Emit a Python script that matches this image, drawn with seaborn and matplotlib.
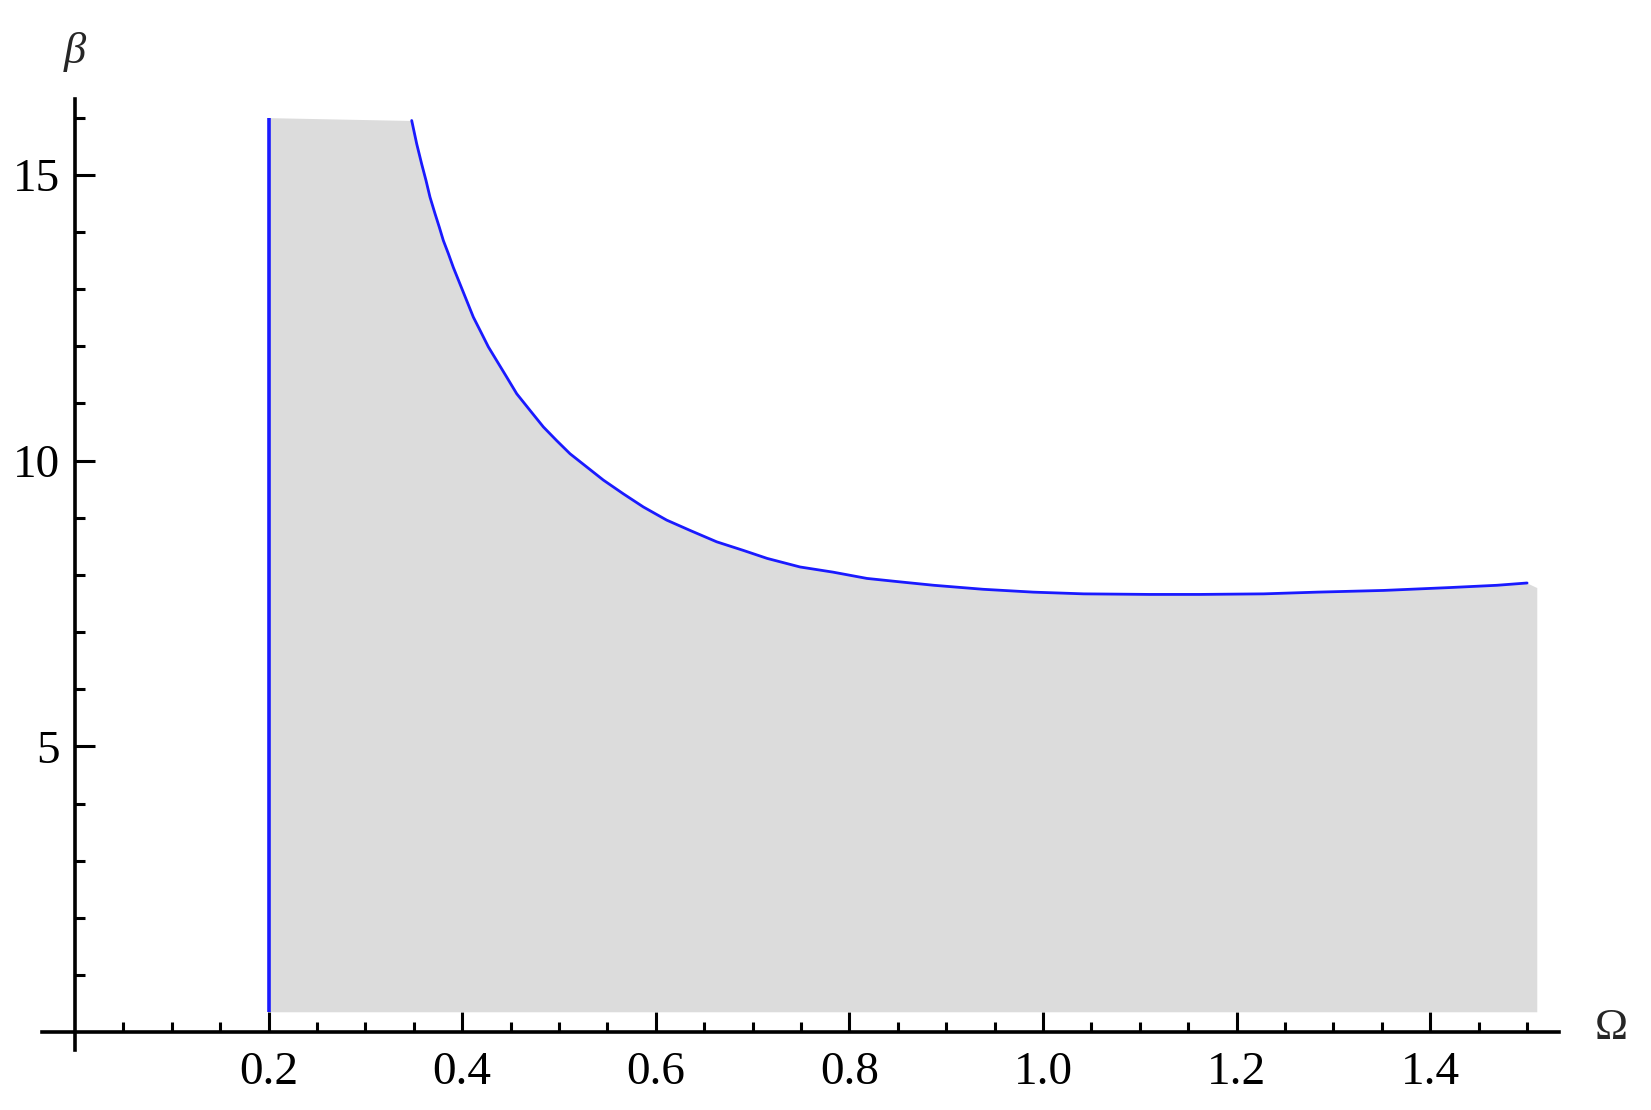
import matplotlib
matplotlib.use("Agg")
import matplotlib.pyplot as plt
import seaborn as sns
import numpy as np

# ---- data ----
omega = [0.3478, 0.3530, 0.3581, 0.3626, 0.3667, 0.3719, 0.3764, 0.3805, 0.3857,
         0.3908, 0.3977, 0.4046, 0.4115, 0.4184, 0.4270, 0.4356, 0.4460, 0.4563,
         0.4700, 0.4838, 0.4976, 0.5114, 0.5286, 0.5458, 0.5664, 0.5871, 0.6112,
         0.6353, 0.6629, 0.6904, 0.715, 0.749, 0.783, 0.818, 0.852, 0.887, 0.938,
         0.990, 1.042, 1.110, 1.162, 1.228, 1.283, 1.352, 1.420, 1.469, 1.500]
beta = [15.95, 15.54, 15.19, 14.90, 14.61, 14.32, 14.08, 13.85, 13.62,
        13.38, 13.09, 12.80, 12.51, 12.28, 11.99, 11.75, 11.46, 11.17,
        10.88, 10.59, 10.35, 10.12, 9.89, 9.66, 9.42, 9.19, 8.96,
        8.78, 8.58, 8.43, 8.29, 8.14, 8.05, 7.94, 7.88, 7.82, 7.75,
        7.70, 7.67, 7.66, 7.66, 7.67, 7.70, 7.73, 7.78, 7.82, 7.86]
omega_left = 0.2          # vertical boundary
region_bottom = 0.36      # bottom of shaded region
region_cap = 16.0         # top cap of shaded region
region_right = 1.51       # right edge of shaded region
region_right_top = 7.78

x_major = [0.2, 0.4, 0.6, 0.8, 1.0, 1.2, 1.4]
x_labels = ["0.2", "0.4", "0.6", "0.8", "1.0", "1.2", "1.4"]
y_major = [5, 10, 15]
y_labels = ["5", "10", "15"]

sns.set_theme(style="white")
plt.rcParams["font.family"] = ["Liberation Serif", "DejaVu Serif"]

fig = plt.figure(figsize=(16.51, 11.10), dpi=100)
ax = fig.add_axes([0.02526, 0.054, 0.9443 - 0.02526, 0.9105 - 0.054])
ax.set_xlim(-0.0344, 1.533)
ax.set_ylim(-0.31, 16.32)

# shaded region
fill_x = np.array([omega_left] + omega + [region_right])
fill_top = np.array([region_cap] + beta + [region_right_top])
ax.fill_between(fill_x, region_bottom, np.minimum(fill_top, region_cap),
                color="#dcdcdc", lw=0, zorder=1)

# boundaries
ax.plot([omega_left, omega_left], [region_bottom, region_cap],
        color="#1a1aff", lw=2.6, zorder=3, solid_capstyle="butt")
sns.lineplot(x=omega, y=beta, ax=ax, color="#1a1aff", lw=2.0, zorder=3,
             sort=False, estimator=None)

# axes through the origin
for s in ["top", "right"]:
    ax.spines[s].set_visible(False)
for s in ["left", "bottom"]:
    ax.spines[s].set_position(("data", 0))
    ax.spines[s].set_color("black")
    ax.spines[s].set_linewidth(2.6)
    ax.spines[s].set_zorder(4)

ax.set_xticks(x_major)
ax.set_xticklabels(x_labels)
ax.set_xticks([v for v in np.round(np.arange(0.05, 1.501, 0.05), 2)
               if not any(abs(v - m) < 1e-6 for m in x_major)], minor=True)
ax.set_yticks(y_major)
ax.set_yticklabels(y_labels)
ax.set_yticks([v for v in range(1, 17) if v % 5 != 0], minor=True)

ax.tick_params(axis="both", which="both", bottom=True, left=True,
               top=False, right=False)
ax.tick_params(axis="both", which="major", direction="in", length=14.5,
               width=2.2, color="black", labelsize=34, labelcolor="black")
ax.tick_params(axis="both", which="minor", direction="in", length=7.5,
               width=2.2, color="black")
ax.tick_params(axis="x", which="major", pad=14)
ax.tick_params(axis="y", which="major", pad=11)
for t in ax.get_xticklabels() + ax.get_yticklabels():
    t.set_zorder(5)

ax.grid(False)
ax.set_xlabel("")
ax.set_ylabel("")

# axis labels
ax.text(0.0, 17.14, "β", fontsize=32, style="italic", ha="center", va="center",
        clip_on=False)
ax.text(1.587, 0.08, "Ω", fontsize=32, ha="center", va="center", clip_on=False)

fig.savefig("out.png", dpi=100, facecolor="white")
